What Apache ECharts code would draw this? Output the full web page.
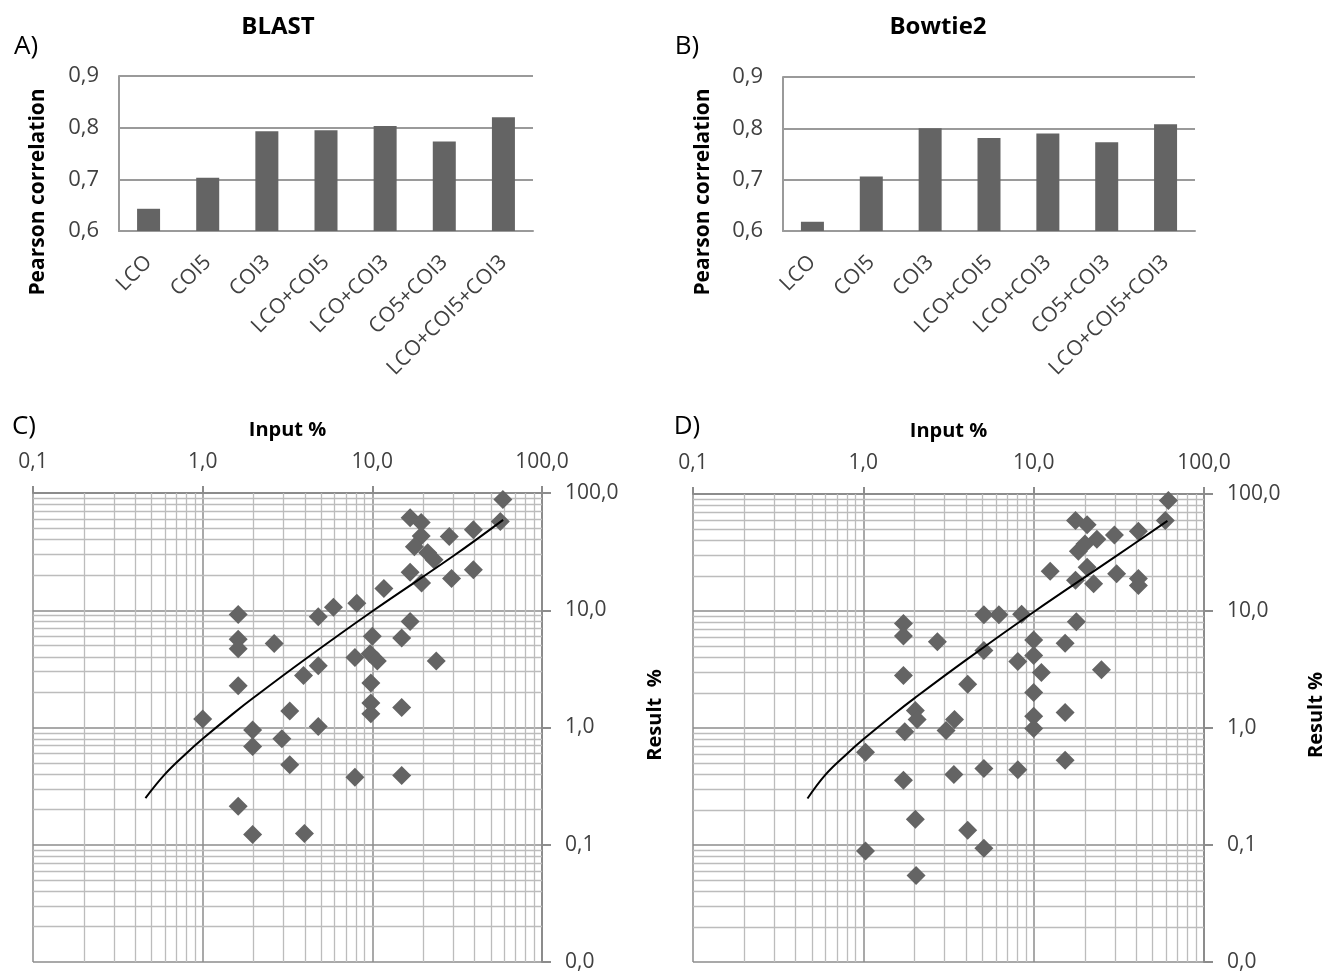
<!DOCTYPE html>
<html>
<head>
<meta charset="utf-8">
<script src="https://cdn.jsdelivr.net/npm/echarts@6/dist/echarts.min.js"></script>
<style>
html, body { margin: 0; padding: 0; background: #fff; }
#main { width: 1338px; height: 974px; }
</style>
</head>
<body>
<div id="main"></div>
<script>
// bar panels A and B
const categories = ['LCO', 'COI5', 'COI3', 'LCO+COI5', 'LCO+COI3', 'CO5+COI3', 'LCO+COI5+COI3'];
const blastCorr = [0.643, 0.703, 0.793, 0.795, 0.803, 0.773, 0.820];
const bowtieCorr = [0.618, 0.706, 0.800, 0.781, 0.790, 0.773, 0.808];

// scatter panel C (BLAST)
const blastInput = [58.8, 56.8, 16.7, 19.4, 19.4, 17.7, 21.2, 23.1, 28.4, 39.4, 39.4, 29.3, 16.7, 19.5, 11.7, 8.1, 5.9, 4.8, 1.62, 16.7, 1.62, 1.62, 2.64, 10, 14.9, 7.9, 9.7, 10.7, 23.8, 4.8, 3.93, 1.62, 9.8, 9.8, 9.8, 14.9, 3.26, 1.0, 1.97, 1.97, 2.93, 4.8, 3.26, 7.9, 14.9, 1.62, 1.97, 3.98];
const blastResult = [88, 57, 61.5, 56, 43, 34.8, 31, 27, 42.5, 48.7, 22.2, 18.7, 21.1, 17.1, 15.3, 11.5, 10.6, 8.8, 9.2, 8.0, 5.65, 4.7, 5.2, 6.0, 5.8, 3.95, 4.25, 3.7, 3.7, 3.36, 2.77, 2.27, 2.4, 1.62, 1.31, 1.48, 1.38, 1.18, 0.95, 0.69, 0.80, 1.02, 0.48, 0.377, 0.39, 0.213, 0.122, 0.125];

// scatter panel D (Bowtie2)
const bowtieInput = [61.8, 59.3, 17.6, 20.6, 29.8, 41.2, 23.5, 20, 18.3, 12.5, 20.6, 30.7, 41.2, 41.2, 17.6, 22.5, 5.1, 6.25, 8.5, 1.72, 17.8, 1.72, 2.72, 10, 15.3, 5.1, 10, 8.07, 11.1, 25, 1.72, 4.1, 10, 2.02, 2.07, 15.3, 10, 10, 3.43, 3.06, 1.75, 1.03, 15.3, 5.1, 8.07, 3.4, 1.72, 2.02, 4.1, 1.03, 5.1, 2.04];
const bowtieResult = [88, 59.4, 59.4, 54.6, 44.7, 48, 41, 37.4, 32.4, 21.9, 23.6, 20.8, 19, 16.5, 18.3, 17.1, 9.3, 9.3, 9.4, 7.8, 8.1, 6.1, 5.45, 5.65, 5.3, 4.6, 4.16, 3.7, 2.98, 3.15, 2.81, 2.37, 2.01, 1.41, 1.18, 1.36, 1.26, 0.99, 1.18, 0.95, 0.93, 0.62, 0.53, 0.45, 0.44, 0.40, 0.358, 0.166, 0.134, 0.089, 0.094, 0.055];

// trend lines
const blastTrendInput = [0.46, 0.6, 0.8, 1, 1.5, 2, 4, 10, 30, 59];
const blastTrendResult = [0.25, 0.4, 0.6, 0.8, 1.3, 1.8, 3.8, 9.8, 29, 59];
const bowtieTrendInput = [0.47, 0.6, 0.8, 1, 1.5, 2, 4, 10, 30, 61];
const bowtieTrendResult = [0.25, 0.4, 0.6, 0.8, 1.3, 1.8, 3.8, 9.8, 29, 59];

const FONT = 'Open Sans';
const GRAY = '#646464';
const LINE = '#9a9a9a';
const MAJOR = '#8c8c8c';
const MINOR = '#bcbcbc';
const comma = v => Number(v).toFixed(1).replace('.', ',');
const zip = (a, b) => a.map((v, i) => [v, b[i]]);

// minor grid positions 2..9 in each decade
function minors(fromExp, toExp) {
  const out = [];
  for (let e = fromExp; e < toExp; e++) {
    for (let k = 2; k <= 9; k++) out.push(k * Math.pow(10, e));
  }
  return out;
}
const xMinor = minors(-1, 2);
const yMinor = minors(-2, 2);

function barX(gi) {
  return {
    type: 'category', gridIndex: gi, data: categories,
    axisLine: { lineStyle: { color: LINE, width: 2 } },
    axisTick: { show: false },
    axisLabel: { rotate: 45, fontSize: 21, color: '#404040', margin: 28, fontFamily: FONT, interval: 0 }
  };
}
function barY(gi) {
  return {
    type: 'value', gridIndex: gi, min: 0.6, max: 0.9, interval: 0.1,
    axisLine: { show: true, lineStyle: { color: LINE, width: 2 } },
    axisTick: { show: false },
    axisLabel: { formatter: comma, fontSize: 22, color: '#404040', margin: 20, fontFamily: FONT },
    splitLine: { lineStyle: { color: LINE, width: 2 } }
  };
}
function logX(gi) {
  return {
    type: 'log', logBase: 10, gridIndex: gi, position: 'top', min: 0.1, max: 100,
    name: 'Input %', nameLocation: 'middle', nameGap: 53,
    nameTextStyle: { fontFamily: FONT, fontSize: 20, fontWeight: 'bold', color: '#000' },
    axisLine: { show: true, lineStyle: { color: MAJOR, width: 2 } },
    axisTick: { show: true, length: 7, lineStyle: { color: MAJOR, width: 2 } },
    axisLabel: { formatter: comma, fontSize: 21, color: '#404040', margin: 20, fontFamily: FONT },
    splitLine: { show: true, lineStyle: { color: MAJOR, width: 1.5 } }
  };
}
function logY(gi) {
  return {
    type: 'log', logBase: 10, gridIndex: gi, position: 'right', min: 0.01, max: 100,
    axisLine: { show: true, lineStyle: { color: MAJOR, width: 2 } },
    axisTick: { show: true, length: 9, lineStyle: { color: MAJOR, width: 2 } },
    axisLabel: { formatter: comma, fontSize: 21, color: '#404040', margin: 23, fontFamily: FONT },
    splitLine: { show: true, lineStyle: { color: MAJOR, width: 1.5 } }
  };
}
function minorGrid(ai) {
  return {
    type: 'line', xAxisIndex: ai, yAxisIndex: ai, data: [], z: 1, silent: true,
    markLine: {
      silent: true, symbol: ['none', 'none'], animation: false, z: 1,
      label: { show: false },
      lineStyle: { color: MINOR, width: 1.3, type: 'solid' },
      emphasis: { disabled: true },
      data: xMinor.map(v => ({ xAxis: v })).concat(yMinor.map(v => ({ yAxis: v })))
    }
  };
}
function scatter(ai, xs, ys) {
  return {
    type: 'scatter', xAxisIndex: ai, yAxisIndex: ai, data: zip(xs, ys), z: 10,
    symbol: 'diamond', symbolSize: 19, itemStyle: { color: GRAY, opacity: 1 }
  };
}
function trend(ai, xs, ys) {
  return {
    type: 'line', xAxisIndex: ai, yAxisIndex: ai, data: zip(xs, ys), z: 11,
    showSymbol: false, smooth: 0.4, lineStyle: { color: '#000', width: 2 }
  };
}
function txt(text, x, y, size, bold, rot) {
  return {
    type: 'text', x: x, y: y, rotation: rot || 0, silent: true,
    style: {
      text: text, fill: '#000', fontFamily: FONT, fontSize: size, fontWeight: bold ? 'bold' : 'normal',
      align: 'center', verticalAlign: 'middle', textAlign: 'center', textVerticalAlign: 'middle'
    }
  };
}

const chart = echarts.init(document.getElementById('main'));
chart.setOption({
  animation: false,
  textStyle: { fontFamily: FONT },
  grid: [
    { left: 119, top: 76, width: 414, height: 155 },
    { left: 783, top: 77, width: 412, height: 154 },
    { left: 33, top: 493, width: 509, height: 469 },
    { left: 693, top: 494, width: 511, height: 468 }
  ],
  xAxis: [barX(0), barX(1), logX(2), logX(3)],
  yAxis: [barY(0), barY(1), logY(2), logY(3)],
  series: [
    { type: 'bar', xAxisIndex: 0, yAxisIndex: 0, data: blastCorr, barWidth: 23, itemStyle: { color: GRAY } },
    { type: 'bar', xAxisIndex: 1, yAxisIndex: 1, data: bowtieCorr, barWidth: 23, itemStyle: { color: GRAY } },
    minorGrid(2), scatter(2, blastInput, blastResult), trend(2, blastTrendInput, blastTrendResult),
    minorGrid(3), scatter(3, bowtieInput, bowtieResult), trend(3, bowtieTrendInput, bowtieTrendResult)
  ],
  graphic: [
    txt('BLAST', 278, 27, 24, true),
    txt('Bowtie2', 938, 27, 24, true),
    txt('A)', 26, 47, 26, false),
    txt('B)', 687, 47, 26, false),
    txt('C)', 24, 427, 26, false),
    txt('D)', 687, 427, 26, false),
    txt('Pearson correlation', 38, 192, 21, true, Math.PI / 2),
    txt('Pearson correlation', 703, 192, 21, true, Math.PI / 2),
    txt('Result  %', 655, 715, 20, true, Math.PI / 2),
    txt('Result %', 1316, 715, 20, true, Math.PI / 2)
  ]
});
</script>
</body>
</html>
